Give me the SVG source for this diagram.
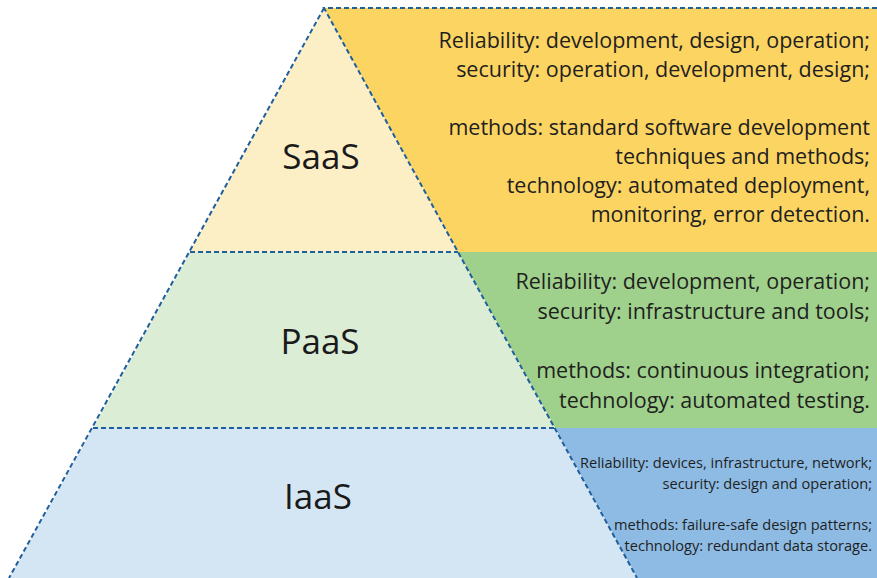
<svg xmlns="http://www.w3.org/2000/svg" width="877" height="578" viewBox="0 0 877 578">
<style>
.dash{fill:none;stroke:#1f5f9c;stroke-width:2;stroke-dasharray:5 3}
.big{font-family:"Open Sans","Noto Sans",sans-serif;font-size:35px;fill:#1a1a1a;text-anchor:middle}
.t{font-family:"Open Sans","Noto Sans",sans-serif;font-size:21.5px;fill:#1f1f1f;text-anchor:end}
.s{font-family:"Open Sans","Noto Sans",sans-serif;font-size:14.6px;fill:#1f1f1f;text-anchor:end}
</style>
<rect width="877" height="578" fill="#ffffff"/>
<g id="saas">
<polygon points="324,8 877,8 877,252 458,252" fill="#fcd462"/>
<polygon points="324,8 458,252 190,252" fill="#fcefc6"/>
<text class="big" x="321" y="169">SaaS</text>
<text class="t" x="870" y="48">Reliability: development, design, operation;</text>
<text class="t" x="870" y="77">security: operation, development, design;</text>
<text class="t" x="870" y="135">methods: standard software development</text>
<text class="t" x="870" y="164">techniques and methods;</text>
<text class="t" x="870" y="193">technology: automated deployment,</text>
<text class="t" x="870" y="222">monitoring, error detection.</text>
</g>
<g id="paas">
<polygon points="458,252 877,252 877,428 555,428" fill="#9fd18c"/>
<polygon points="190,252 458,252 555,428 93,428" fill="#dcedd5"/>
<text class="big" x="320" y="354">PaaS</text>
<text class="t" x="870" y="289">Reliability: development, operation;</text>
<text class="t" x="870" y="319">security: infrastructure and tools;</text>
<text class="t" x="870" y="378">methods: continuous integration;</text>
<text class="t" x="870" y="408">technology: automated testing.</text>
</g>
<g id="iaas">
<polygon points="555,428 877,428 877,578 637,578" fill="#8dbbe3"/>
<polygon points="93,428 555,428 637,578 9,578" fill="#d4e6f4"/>
<text class="big" x="318" y="509">IaaS</text>
<text class="s" x="872" y="468">Reliability: devices, infrastructure, network;</text>
<text class="s" x="872" y="489">security: design and operation;</text>
<text class="s" x="872" y="530">methods: failure-safe design patterns;</text>
<text class="s" x="872" y="551">technology: redundant data storage.</text>
</g>
<g id="connectors">
<path class="dash" d="M877,8 H324 L637,578"/>
<path class="dash" d="M324,8 L9,578"/>
<path class="dash" d="M190,252 H458"/>
<path class="dash" d="M93,428 H555"/>
</g>
</svg>
